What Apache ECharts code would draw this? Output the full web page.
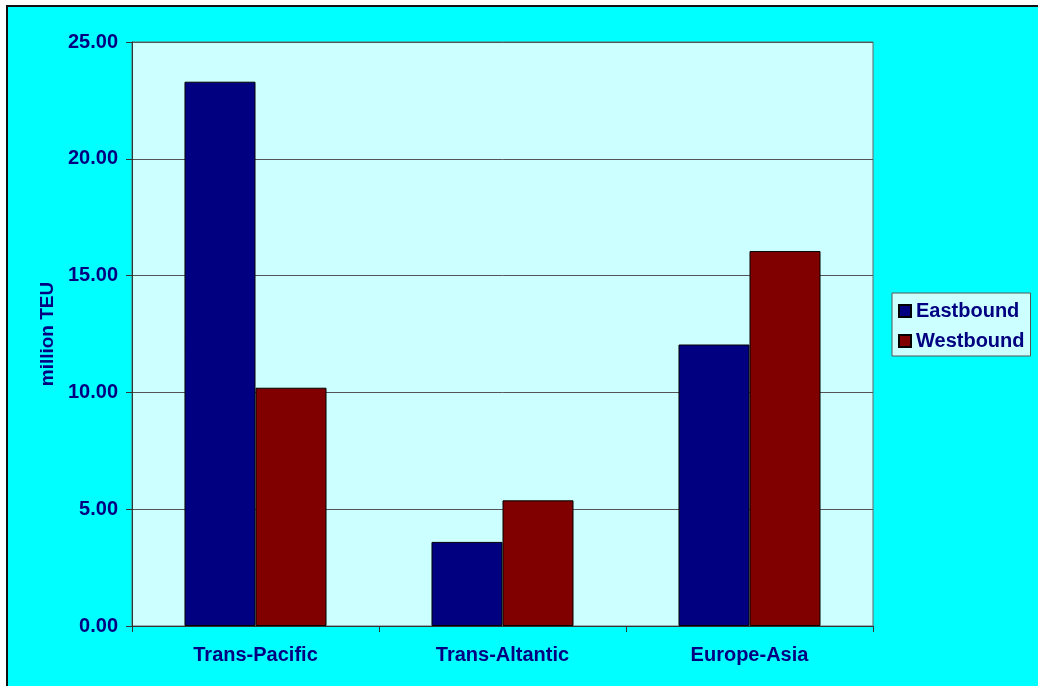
<!DOCTYPE html>
<html>
<head>
<meta charset="utf-8">
<script src="https://cdn.jsdelivr.net/npm/echarts@6/dist/echarts.min.js"></script>
<style>
    html, body { margin: 0; padding: 0; background: #fff; }
    #main { width: 1038px; height: 686px; }
</style>
</head>
<body>
<div id="main"></div>
<script>
var categories = ['Trans-Pacific', 'Trans-Altantic', 'Europe-Asia'];
var eastbound = [23.3, 3.6, 12.05];
var westbound = [10.2, 5.38, 16.05];
var yTicks = [0, 5, 10, 15, 20, 25];

var navy = '#000080';
var labelFont = 'Liberation Sans, Arial, sans-serif';

var myChart = echarts.init(document.getElementById('main'));
var option = {
    animation: false,
    backgroundColor: '#ffffff',
    graphic: [{
        type: 'rect',
        z: -10,
        shape: { x: 7, y: 6, width: 1050, height: 700 },
        style: { fill: '#00FFFF', stroke: '#111', lineWidth: 2 }
    }],
    grid: {
        left: 132,
        right: 165,
        top: 42,
        bottom: 60,
        show: true,
        backgroundColor: '#CCFFFF',
        borderColor: '#666',
        borderWidth: 1
    },
    legend: {
        orient: 'vertical',
        left: 892,
        top: 293,
        padding: [8, 6, 5, 6],
        itemGap: 10,
        itemWidth: 12,
        itemHeight: 12,
        itemTextGap: 6,
        backgroundColor: '#CCFFFF',
        borderColor: '#555',
        borderWidth: 1,
        textStyle: {
            color: navy,
            fontFamily: labelFont,
            fontWeight: 'bold',
            fontSize: 20
        },
        data: [
            { name: 'Eastbound', icon: 'rect' },
            { name: 'Westbound', icon: 'rect' }
        ]
    },
    xAxis: {
        type: 'category',
        data: categories,
        axisLine: { lineStyle: { color: '#333', width: 1 } },
        axisTick: { show: true, length: 6, lineStyle: { color: '#333' } },
        axisLabel: {
            margin: 19,
            color: navy,
            fontFamily: labelFont,
            fontWeight: 'bold',
            fontSize: 20
        }
    },
    yAxis: {
        type: 'value',
        min: yTicks[0],
        max: yTicks[yTicks.length - 1],
        interval: 5,
        name: 'million TEU',
        nameLocation: 'middle',
        nameRotate: 90,
        nameGap: 75,
        nameTextStyle: {
            color: navy,
            fontFamily: labelFont,
            fontWeight: 'bold',
            fontSize: 19
        },
        axisLine: { show: true, lineStyle: { color: '#333', width: 1 } },
        axisTick: { show: true, length: 6, lineStyle: { color: '#333' } },
        splitLine: { lineStyle: { color: '#555', width: 1 } },
        axisLabel: {
            margin: 14,
            color: navy,
            fontFamily: labelFont,
            fontWeight: 'bold',
            fontSize: 20,
            formatter: function (v) { return v.toFixed(2); }
        }
    },
    series: [
        {
            name: 'Eastbound',
            type: 'bar',
            data: eastbound,
            barGap: 0,
            barCategoryGap: '42.5%',
            itemStyle: { color: '#000080', borderColor: '#000', borderWidth: 1 }
        },
        {
            name: 'Westbound',
            type: 'bar',
            data: westbound,
            itemStyle: { color: '#800000', borderColor: '#000', borderWidth: 1 }
        }
    ]
};
myChart.setOption(option);
</script>
</body>
</html>
